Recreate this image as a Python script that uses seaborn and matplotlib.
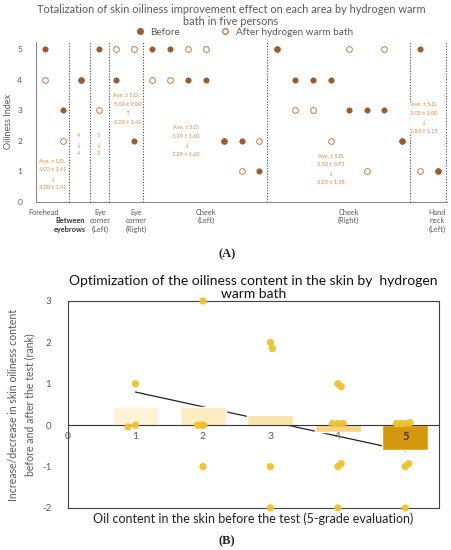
import numpy as np
import pandas as pd
import matplotlib
matplotlib.use("Agg")
import matplotlib.pyplot as plt
import seaborn as sns
from matplotlib.lines import Line2D

# ---------------- Panel A data ----------------
slots = list(range(23))
before = [5, 3, 4, 5, 4, 2, 5, 5, 4, 4, 2, 2, 1, 5, 4, 4, 4, 3, 3, 3, 2, 5, 1]
after = [4, 2, 4, 3, 5, 5, 4, 4, 5, 5, 2, 1, 2, 5, 3, 3, 2, 5, 1, 5, 2, 1, 1]
area_names = ["Forehead", "Eye\ncorner\n(Left)", "Eye\ncorner\n(Right)",
              "Cheek\n(Left)", "Cheek\n(Right)", "Hand\nneck\n(Left)"]
area_label_x = [-0.1, 3.08, 5.1, 9.0, 17.0, 21.95]
between_label = "Between\neyebrows"
between_label_x = 1.4
dividers = [1.35, 2.5, 3.6, 5.5, 12.45, 20.45, 22.45]
notes = ["Ave. ± S.D.\n4.00 ± 1.41\n↓\n3.00 ± 1.41",
         "4\n↓\n4",
         "5\n↓\n3",
         "Ave. ± S.D.:\n5.00 ± 0.00\n↑\n3.00 ± 1.41",
         "Ave. ± S.D.\n3.29 ± 1.60\n↓\n3.29 ± 1.60",
         "Ave. ± S.D.\n3.50 ± 0.93\n↓\n3.25 ± 1.58",
         "Ave. ± S.D.\n3.00 ± 1.00\n↓\n2.83 ± 1.15"]
note_x = [0.4, 1.9, 3.0, 4.6, 7.9, 16.0, 21.2]
note_y = [0.9, 1.87, 1.87, 3.05, 2.0, 1.07, 2.75]
a_yticks = [0, 1, 2, 3, 4, 5]

# ---------------- Panel B data ----------------
bar_x = [1, 2, 3, 4, 5]
bar_y = [0.45, 0.45, 0.25, -0.16, -0.59]
bar_names = ["1", "2", "3", "4", "5"]
bar_colors = ["#FFF3D6", "#FDEBC2", "#FBE2A8", "#F7D585", "#D4980F"]
pt_x = [1.0, 0.89, 1.0, 2.0, 1.92, 1.97, 2.01, 2.0, 3.0, 3.03, 3.0, 3.0,
        4.0, 4.05, 3.92, 4.0, 4.08, 4.0, 4.05, 4.0,
        4.87, 4.94, 5.0, 5.07, 5.0, 5.05, 5.0]
pt_y = [1, -0.04, 0, 3, 0, 0, 0, -1, 2, 1.85, -1, -2,
        1, 0.93, 0.04, 0.04, 0.04, -1, -0.93, -2,
        0.04, 0.04, 0.04, 0.06, -1, -0.93, -2]
trend_x = [1, 5]
trend_y = [0.8, -0.62]
b_xtick_labels = ["0", "1", "2", "3", "4", "5"]
b_yticks = [-2, -1, 0, 1, 2, 3]

sns.set_theme(style="white")
plt.rcParams["font.family"] = ["Lato", "DejaVu Sans"]
GRAY = "#595959"
BROWN = "#9A5A30"
OPEN_EDGE = "#C47A4A"
NOTE = "#E2803A"

fig = plt.figure(figsize=(4.51, 5.5), dpi=100)

# ================= Panel A =================
axA = fig.add_axes([0.080, 0.633, 0.911, 0.291])
dfA = pd.DataFrame({"slot": slots, "before": before, "after": after})
sns.scatterplot(data=dfA, x="slot", y="after", ax=axA, s=17, facecolor="white",
                edgecolor=OPEN_EDGE, linewidth=0.7, zorder=3, legend=False)
sns.scatterplot(data=dfA, x="slot", y="before", ax=axA, s=16, color=BROWN,
                edgecolor=BROWN, linewidth=0.3, zorder=4, legend=False)
for d in dividers:
    axA.axvline(d, color="#444444", linestyle=(0, (1, 1.5)), linewidth=0.8, zorder=1)
for t, x, y in zip(notes, note_x, note_y):
    axA.text(x, y, t, fontsize=4, color=NOTE, ha="center", va="center",
             linespacing=1.9, zorder=5,
             bbox=dict(facecolor="white", edgecolor="none", pad=0.3, alpha=0.9))
axA.set_xlim(-0.5, 22.5)
axA.set_ylim(0, 5.25)
axA.set_yticks(a_yticks)
axA.set_yticklabels([str(v) for v in a_yticks], fontsize=6, color=GRAY)
axA.set_xticks([])
axA.set_xlabel("")
axA.set_ylabel("Oiliness Index", fontsize=6.5, color=GRAY, labelpad=3)
axA.tick_params(axis="y", length=3, width=0.6, color="#888888", pad=7)
for s in ["top", "right"]:
    axA.spines[s].set_visible(False)
for s in ["left", "bottom"]:
    axA.spines[s].set_color("#8C8C8C")
    axA.spines[s].set_linewidth(0.8)
for name, x in zip(area_names, area_label_x):
    axA.text(x, -0.22, name, fontsize=5.3, color=GRAY, ha="center", va="top",
             linespacing=1.25)
axA.text(between_label_x, -0.5, between_label, fontsize=5.3, color="#333333",
         ha="center", va="top", linespacing=1.25, fontweight="bold")

handles = [Line2D([], [], marker="o", linestyle="", markersize=4,
                  markerfacecolor=BROWN, markeredgecolor=BROWN),
           Line2D([], [], marker="o", linestyle="", markersize=4,
                  markerfacecolor="white", markeredgecolor=OPEN_EDGE)]
leg = axA.legend(handles, ["Before", "After hydrogen warm bath"], ncol=2,
                 loc="lower center", bbox_to_anchor=(0.5, 1.0), frameon=False,
                 fontsize=7.2, handletextpad=0.1, columnspacing=3.5,
                 borderaxespad=0.1)
for t in leg.get_texts():
    t.set_color(GRAY)
fig.text(0.512, 0.983, "Totalization of skin oiliness improvement effect on each area by hydrogen warm",
         ha="center", va="center", fontsize=7.9, color=GRAY)
fig.text(0.512, 0.961, "bath in five persons", ha="center", va="center",
         fontsize=7.9, color=GRAY)
fig.text(0.503, 0.538, "(A)", ha="center", va="center", fontsize=9,
         fontweight="bold", family=["Liberation Serif", "DejaVu Serif"], color="#222222")

# ================= Panel B =================
axB = fig.add_axes([0.1508, 0.0764, 0.8226, 0.3764])
dfBar = pd.DataFrame({"x": bar_x, "y": bar_y, "name": bar_names})
sns.lineplot(x=trend_x, y=trend_y, ax=axB, color="#222222", linewidth=0.9,
             zorder=0.5)
sns.barplot(data=dfBar, x="x", y="y", hue="name",
            palette=dict(zip(bar_names, bar_colors)), native_scale=True,
            width=0.68, dodge=False, errorbar=None, legend=False, ax=axB,
            saturation=1, zorder=1)
axB.axhline(0, color="#333333", linewidth=0.8, zorder=2)
dfPt = pd.DataFrame({"x": pt_x, "y": pt_y})
sns.scatterplot(data=dfPt, x="x", y="y", ax=axB, s=28, color="#EEC12E",
                edgecolor="none", alpha=0.95, zorder=4, legend=False,
                clip_on=False)
axB.set_xlim(0, 5.5)
axB.set_ylim(-2, 3)
axB.set_xticks([])
axB.set_yticks(b_yticks)
axB.set_yticklabels([str(v) for v in b_yticks], fontsize=7, color=GRAY)
axB.tick_params(axis="y", length=2, width=0.6, pad=10)
for i, lab in enumerate(b_xtick_labels):
    if lab == "5":
        axB.text(i, -0.28, lab, ha="center", va="center", fontsize=8,
                 fontweight="bold", color="#4A2E00", zorder=5)
    else:
        axB.text(i, -0.28, lab, ha="center", va="center", fontsize=7.5,
                 color=GRAY, zorder=5)
for s in axB.spines.values():
    s.set_color("#404040")
    s.set_linewidth(0.8)
axB.set_xlabel("Oil content in the skin before the test (5-grade evaluation)",
               fontsize=9, color="#222222", labelpad=3)
axB.set_ylabel("Increase/decrease in skin oiliness content\nbefore and after the test (rank)",
               fontsize=7.6, color=GRAY, labelpad=5, linespacing=1.55)
axB.set_title("Optimization of the oiliness content in the skin by  hydrogen\nwarm bath",
              fontsize=10, color="#111111", pad=2, linespacing=1.1)
fig.text(0.503, 0.016, "(B)", ha="center", va="center", fontsize=9,
         fontweight="bold", family=["Liberation Serif", "DejaVu Serif"], color="#222222")

fig.savefig("out.png", dpi=100)
